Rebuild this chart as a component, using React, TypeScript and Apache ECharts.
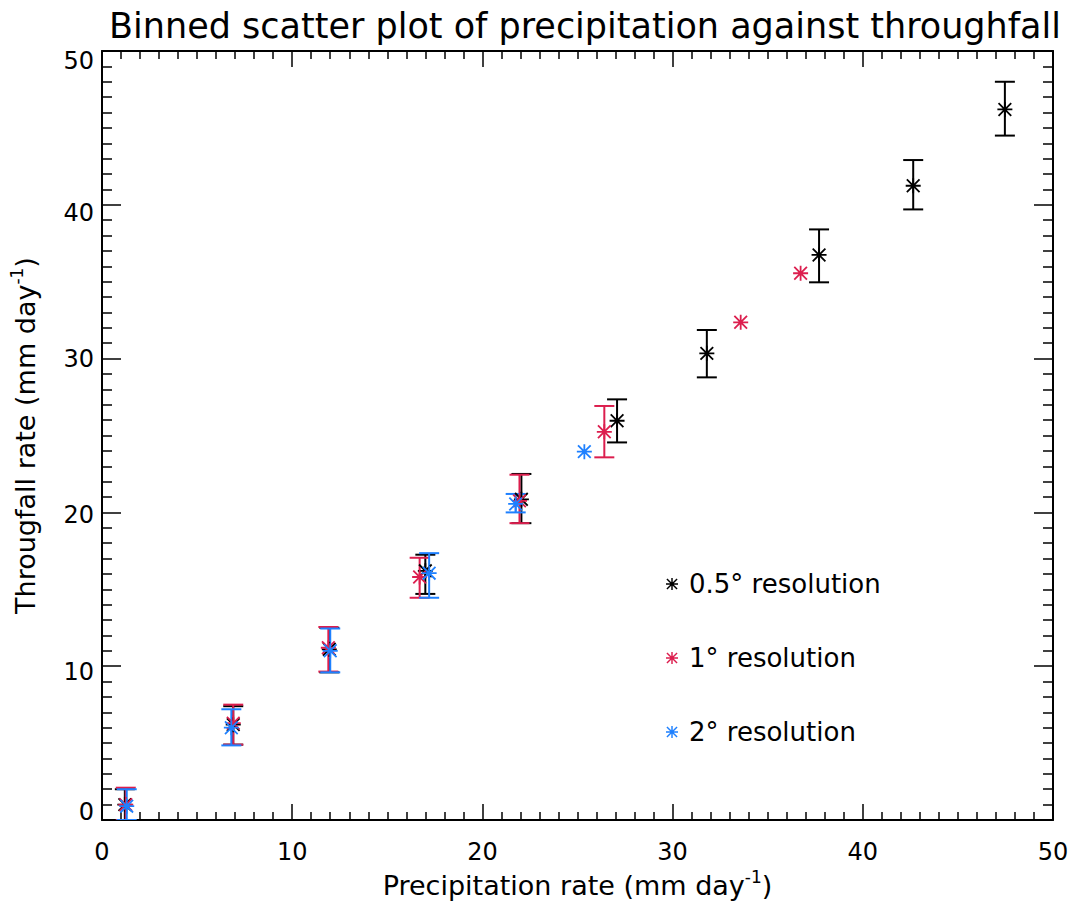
import React, { useEffect, useRef } from "react";
import * as echarts from "echarts";

const title = "Binned scatter plot of precipitation against throughfall";
const xNameMain = "Precipitation rate (mm day";
const yNameMain = "Througfall rate (mm day";
const unitSup = "-1";
const seriesNames = ["0.5° resolution", "1° resolution", "2° resolution"];
const colors = ["#000000", "#dc1e4e", "#1e80ff"];

// 0.5° resolution (black)
const blackX = [1.2, 6.9, 11.95, 17.0, 22.05, 27.08, 31.8, 37.7, 42.65, 47.47];
const blackY = [1.0, 6.2, 11.1, 16.2, 20.85, 25.96, 30.34, 36.74, 41.24, 46.2];
const blackLo = [-0.3, 4.9, 9.6, 14.7, 19.3, 24.55, 28.78, 34.96, 39.7, 44.5];
const blackHi = [2.0, 7.4, 12.5, 17.25, 22.5, 27.35, 31.86, 38.4, 42.91, 48.0];

// 1° resolution (red)
const redX = [1.25, 6.9, 11.9, 16.7, 21.95, 26.41, 33.58, 36.73];
const redY = [1.0, 6.3, 11.2, 15.8, 20.75, 25.24, 32.36, 35.55];
const redLo = [0.0, 4.9, 9.65, 14.45, 19.3, 23.58, null, null];
const redHi = [2.1, 7.5, 12.55, 17.05, 22.45, 26.92, null, null];

// 2° resolution (blue)
const blueX = [1.3, 6.8, 12.0, 17.2, 21.75, 25.36];
const blueY = [0.9, 6.0, 11.0, 16.05, 20.55, 23.95];
const blueLo = [0.0, 4.85, 9.6, 14.45, 20.0, null];
const blueHi = [2.0, 7.2, 12.45, 17.35, 21.2, null];

const xTicks = [0, 10, 20, 30, 40, 50];
const yTicks = [0, 10, 20, 30, 40, 50];

const STAR =
  "path://M0,4.4H10V5.6H0Z M4.4,0H5.6V10H4.4Z M1.2,0.35L9.65,8.8L8.8,9.65L0.35,1.2Z M8.8,0.35L9.65,1.2L1.2,9.65L0.35,8.8Z";

const FONT = "DejaVu Sans";

function errSeries(xs: number[], lo: (number | null)[], hi: (number | null)[], color: string) {
  const data: number[][] = [];
  xs.forEach((x, i) => {
    if (lo[i] != null && hi[i] != null) data.push([x, lo[i] as number, hi[i] as number]);
  });
  return {
    type: "custom",
    clip: true,
    silent: true,
    data,
    encode: { x: 0, y: [1, 2] },
    renderItem: (params: any, api: any) => {
      const x = api.value(0);
      const top = api.coord([x, api.value(2)]);
      const bot = api.coord([x, api.value(1)]);
      const hw = 10;
      const style = { stroke: color, lineWidth: 2 };
      return {
        type: "group",
        children: [
          { type: "line", shape: { x1: top[0], y1: top[1], x2: bot[0], y2: bot[1] }, style },
          { type: "line", shape: { x1: top[0] - hw, y1: top[1], x2: top[0] + hw, y2: top[1] }, style },
          { type: "line", shape: { x1: bot[0] - hw, y1: bot[1], x2: bot[0] + hw, y2: bot[1] }, style },
        ],
      };
    },
  };
}

function scatterSeries(name: string, xs: number[], ys: number[], color: string) {
  return {
    type: "scatter",
    name,
    symbol: STAR,
    symbolSize: 15,
    itemStyle: { color, opacity: 1 },
    data: xs.map((x, i) => [x, ys[i]]),
  };
}

const nameRich = {
  n: { fontFamily: FONT, fontSize: 27, color: "#000", lineHeight: 34 },
  s: { fontFamily: FONT, fontSize: 17, color: "#000", verticalAlign: "top", lineHeight: 20 },
};

// per-label vertical nudges of the y tick labels (label style of the reference)
const yLabelStyle: Record<number, string> = { 0: "u8", 10: "d6", 20: "d3", 30: "m", 40: "d8", 50: "d10" };

export default function App() {
  const ref = useRef<HTMLDivElement>(null);
  useEffect(() => {
    if (!ref.current) return;
    const chart = echarts.init(ref.current, undefined, { renderer: "svg" });
    const axisCommon = {
      min: 0,
      max: 50,
      interval: 10,
      splitLine: { show: false },
      axisLine: { show: true, onZero: false, lineStyle: { color: "#000", width: 2 } },
    };
    const lab = { fontFamily: FONT, fontSize: 24, color: "#000" };
    chart.setOption({
      animation: false,
      backgroundColor: "#ffffff",
      title: {
        text: title,
        left: 580,
        top: 3,
        textAlign: "center",
        textStyle: { fontFamily: FONT, fontSize: 35, fontWeight: "normal", color: "#000" },
      },
      grid: { left: 101, right: 21, top: 51, bottom: 85, containLabel: false },
      legend: {
        orient: "vertical",
        left: 661,
        top: 566,
        itemWidth: 24,
        itemHeight: 12,
        itemGap: 48,
        selectedMode: false,
        data: seriesNames.map((n) => ({ name: n, icon: STAR })),
        textStyle: { fontFamily: FONT, fontSize: 26, color: "#000", padding: [0, 0, 12, 0] },
      },
      xAxis: [
        {
          ...axisCommon,
          type: "value",
          position: "bottom",
          name: `{n|${xNameMain}}{s|${unitSup}}{n|)}`,
          nameLocation: "middle",
          nameGap: 47,
          nameTextStyle: { rich: nameRich },
          axisTick: { show: true, inside: true, length: 16, lineStyle: { color: "#000", width: 1.5 } },
          minorTick: { show: true, splitNumber: 10, length: 8, lineStyle: { color: "#000", width: 1.5 } },
          axisLabel: {
            ...lab,
            margin: 20,
            formatter: (v: number) => (xTicks.includes(v) ? String(v) : ""),
          },
        },
        {
          ...axisCommon,
          type: "value",
          position: "top",
          axisTick: { show: true, inside: true, length: 16, lineStyle: { color: "#000", width: 1.5 } },
          minorTick: { show: true, splitNumber: 10, length: 8, lineStyle: { color: "#000", width: 1.5 } },
          axisLabel: { show: false },
        },
      ],
      yAxis: [
        {
          ...axisCommon,
          type: "value",
          position: "left",
          name: `{n|${yNameMain}}{s|${unitSup}}{n|)}`,
          nameLocation: "middle",
          nameGap: 60,
          nameTextStyle: { rich: nameRich },
          axisTick: { show: true, inside: true, length: 19, lineStyle: { color: "#000", width: 1.5 } },
          minorTick: { show: true, splitNumber: 10, length: 10, lineStyle: { color: "#000", width: 1.5 } },
          axisLabel: {
            ...lab,
            margin: 8,
            formatter: (v: number) => (yTicks.includes(v) ? `{${yLabelStyle[v]}|${v}}` : ""),
            rich: {
              m: { ...lab },
              u8: { ...lab, padding: [0, 0, 16, 0] },
              d3: { ...lab, padding: [6, 0, 0, 0] },
              d6: { ...lab, padding: [12, 0, 0, 0] },
              d8: { ...lab, padding: [16, 0, 0, 0] },
              d10: { ...lab, padding: [20, 0, 0, 0] },
            },
          },
        },
        {
          ...axisCommon,
          type: "value",
          position: "right",
          axisTick: { show: true, inside: true, length: 19, lineStyle: { color: "#000", width: 1.5 } },
          minorTick: { show: true, splitNumber: 10, length: 10, lineStyle: { color: "#000", width: 1.5 } },
          axisLabel: { show: false },
        },
      ],
      series: [
        errSeries(blackX, blackLo, blackHi, colors[0]),
        scatterSeries(seriesNames[0], blackX, blackY, colors[0]),
        errSeries(redX, redLo, redHi, colors[1]),
        scatterSeries(seriesNames[1], redX, redY, colors[1]),
        errSeries(blueX, blueLo, blueHi, colors[2]),
        scatterSeries(seriesNames[2], blueX, blueY, colors[2]),
      ],
    });
    return () => chart.dispose();
  }, []);
  return (
    <div
      ref={ref}
      style={{ position: "fixed", left: 0, top: 0, width: 1074, height: 905, background: "#fff" }}
    />
  );
}
